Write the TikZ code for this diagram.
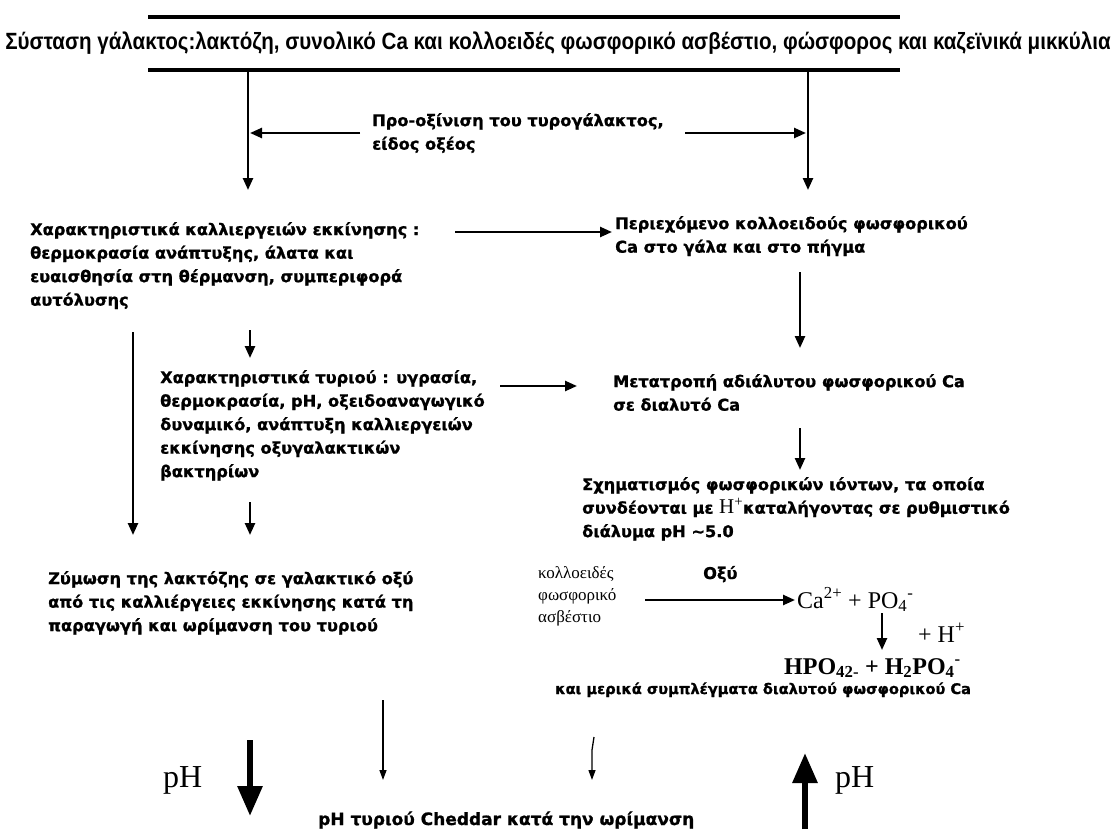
\documentclass[tikz,border=0pt]{standalone}
\usepackage{fontspec}
\setmainfont{DejaVu Sans}
\newfontfamily\bodyf{DejaVu Sans Bold}[FakeBold=1]
\newfontfamily\titlef{Liberation Sans Bold}[FakeStretch=0.875]
\newfontfamily\serf{Liberation Serif}
\newfontfamily\serbf{Liberation Serif Bold}
\usetikzlibrary{arrows.meta}
\tikzset{
  body/.style={anchor=north west,inner sep=0pt,align=left,font=\bodyf\fontsize{16.2}{23.5}\selectfont},
  sertxt/.style={anchor=north west,inner sep=0pt,align=left,font=\serf\fontsize{17}{22}\selectfont},
  chem/.style={anchor=base west,inner sep=0pt,font=\serf\fontsize{24}{26}\selectfont},
  arr/.style={line width=2.4pt,-{Triangle[length=12pt,width=10pt]}},
  thin arr/.style={line width=1.3pt,-{Triangle[length=10pt,width=7pt]}},
  big arr/.style={line width=6pt,-{Triangle[length=30pt,width=24pt]}},
  bar/.style={line width=3.5pt},
}
\begin{document}
\begin{tikzpicture}[x=1pt,y=-1pt]
\useasboundingbox (0,0) rectangle (1117,835);
\fill[white] (0,0) rectangle (1117,835);
% title
\coordinate (tl) at (148,17); \coordinate (tr) at (900,17);
\coordinate (bl) at (148,70); \coordinate (br) at (900,70);
\draw[bar] (tl) -- (tr);
\draw[bar] (bl) -- (br);
\node[inner sep=0pt,font=\titlef\fontsize{23.5}{26}\selectfont] (title) at (558,43) {Σύσταση γάλακτος:λακτόζη, συνολικό Ca και κολλοειδές φωσφορικό ασβέστιο, φώσφορος και καζεϊνικά μικκύλια};
% pre-acid
\node[body] (pre) at (372,113) {Προ-οξίνιση του τυρογάλακτος,\\είδος οξέος};
\coordinate (a1s) at (248,70); \coordinate (a1e) at (248,190);
\coordinate (a2s) at (808,70); \coordinate (a2e) at (808,190);
\draw[arr] (a1s) -- (a1e);
\draw[arr] (a2s) -- (a2e);
\coordinate (pl) at (360,133); \coordinate (pll) at (250,133);
\coordinate (pr) at (685,133); \coordinate (prr) at (806,133);
\draw[arr] (pl) -- (pll);
\draw[arr] (pr) -- (prr);
% left block
\node[body] (cult) at (30,222) {Χαρακτηριστικά καλλιεργειών εκκίνησης :\\θερμοκρασία ανάπτυξης, άλατα και\\ευαισθησία στη θέρμανση, συμπεριφορά\\αυτόλυσης};
\node[body] (colloid) at (615,216) {Περιεχόμενο κολλοειδούς φωσφορικού\\Ca στο γάλα και στο πήγμα};
\coordinate (c1) at (455,232); \coordinate (c2) at (612,232);
\draw[arr] (c1) -- (c2);
\coordinate (d1) at (800,272); \coordinate (d2) at (800,348);
\draw[arr] (d1) -- (d2);
\node[body] (cheese) at (160,370) {Χαρακτηριστικά τυριού : υγρασία,\\θερμοκρασία, pH, οξειδοαναγωγικό\\δυναμικό, ανάπτυξη καλλιεργειών\\εκκίνησης οξυγαλακτικών\\βακτηρίων};
\coordinate (e1) at (250,330); \coordinate (e2) at (250,358);
\draw[arr] (e1) -- (e2);
\coordinate (f1) at (133,332); \coordinate (f2) at (133,535);
\draw[arr] (f1) -- (f2);
\node[body] (conv) at (613,374) {Μετατροπή αδιάλυτου φωσφορικού Ca\\σε διαλυτό Ca};
\coordinate (g1) at (500,386); \coordinate (g2) at (577,386);
\draw[arr] (g1) -- (g2);
\coordinate (h1) at (800,428); \coordinate (h2) at (800,470);
\draw[arr] (h1) -- (h2);
\node[body] (ions) at (582,477) {Σχηματισμός φωσφορικών ιόντων, τα οποία\\συνδέονται με {\serf\fontsize{21}{22}\selectfont H\textsuperscript{+}}καταλήγοντας σε ρυθμιστικό\\διάλυμα pH \textasciitilde5.0};
\coordinate (i1) at (250,502); \coordinate (i2) at (250,535);
\draw[arr] (i1) -- (i2);
% fermentation
\node[body] (ferm) at (48,571) {Ζύμωση της λακτόζης σε γαλακτικό οξύ\\από τις καλλιέργειες εκκίνησης κατά τη\\παραγωγή και ωρίμανση του τυριού};
\node[sertxt] (calc) at (538,566) {κολλοειδές\\φωσφορικό\\ασβέστιο};
\node[body,anchor=base west] (acid) at (703,579) {Οξύ};
\coordinate (j1) at (645,600); \coordinate (j2) at (795,600);
\draw[arr] (j1) -- (j2);
\node[chem] (ca) at (797,608) {Ca\textsuperscript{2+} + PO\textsubscript{4}\textsuperscript{-}};
\coordinate (k1) at (882,613); \coordinate (k2) at (882,650);
\draw[arr] (k1) -- (k2);
\node[chem] (hplus) at (918,642) {+ H\textsuperscript{+}};
\node[chem,font=\serbf\fontsize{24}{26}\selectfont] (hpo) at (784,674) {HPO\textsubscript{42-} + H\textsubscript{2}PO\textsubscript{4}\textsuperscript{-}};
\node[body,anchor=base west,font=\bodyf\fontsize{14.6}{18}\selectfont] (compl) at (555,694) {και μερικά συμπλέγματα διαλυτού φωσφορικού Ca};
% bottom
\coordinate (m1) at (383,700); \coordinate (m2) at (383,780);
\draw[thin arr] (m1) -- (m2);
\coordinate (n1) at (594,737); \coordinate (n2) at (592,750); \coordinate (n3) at (592,780);
\draw[thin arr] (n1) -- (n2) -- (n3);
\node[inner sep=0pt,anchor=base west,font=\serf\fontsize{32}{34}\selectfont] (phl) at (163,787) {pH};
\coordinate (o1) at (250,740); \coordinate (o2) at (250,816);
\draw[big arr] (o1) -- (o2);
\coordinate (q1) at (805,829); \coordinate (q2) at (805,753);
\draw[big arr] (q1) -- (q2);
\node[inner sep=0pt,anchor=base west,font=\serf\fontsize{32}{34}\selectfont] (phr) at (835,787) {pH};
\node[body,anchor=base west,font=\bodyf\fontsize{17}{20}\selectfont] (ched) at (318,825) {pH τυριού Cheddar κατά την ωρίμανση};
\end{tikzpicture}
\end{document}
